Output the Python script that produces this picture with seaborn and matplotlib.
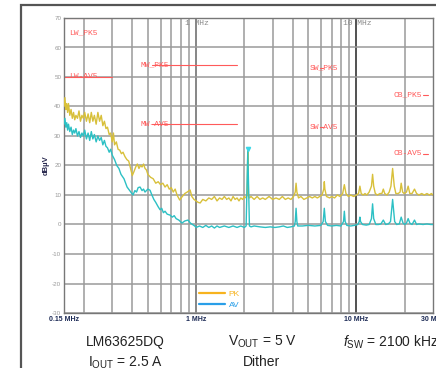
import matplotlib
matplotlib.use("Agg")
import matplotlib.pyplot as plt
from matplotlib.lines import Line2D
from matplotlib.patches import Rectangle
import seaborn as sns

# PK trace (MHz, dBuV)
pk_trace = [
    (0.150, 40), (0.152, 43), (0.154, 39), (0.156, 41), (0.158, 38), (0.160, 41),
    (0.163, 37), (0.166, 39), (0.169, 36), (0.172, 38), (0.175, 35.5), (0.178, 37),
    (0.182, 36), (0.186, 38.5), (0.190, 35), (0.194, 37), (0.198, 36), (0.202, 38),
    (0.207, 35), (0.212, 37.5), (0.217, 34.5), (0.222, 38), (0.227, 35), (0.232, 37),
    (0.238, 34), (0.244, 38), (0.250, 35), (0.256, 37), (0.262, 33.5), (0.268, 35),
    (0.274, 32.5), (0.280, 33), (0.287, 30.5), (0.293, 31), (0.300, 28), (0.305, 31),
    (0.310, 27), (0.318, 28), (0.326, 25.5), (0.334, 25.2), (0.342, 24), (0.350, 24.5),
    (0.360, 23), (0.370, 22), (0.380, 21.5), (0.390, 19), (0.400, 16.6), (0.410, 18),
    (0.420, 19.5), (0.430, 20.5), (0.440, 19), (0.450, 20), (0.460, 19.5), (0.470, 20.5),
    (0.480, 19), (0.490, 18.5), (0.500, 17), (0.520, 16), (0.540, 15.5), (0.560, 14),
    (0.580, 14.5), (0.600, 13.5), (0.620, 14), (0.640, 12.7), (0.660, 13.5), (0.680, 12),
    (0.700, 12.5), (0.720, 11), (0.740, 12), (0.760, 10), (0.790, 8.3), (0.820, 9.5),
    (0.850, 10.5), (0.880, 11), (0.917, 11.7), (0.940, 9.5), (0.970, 8.5), (1.00, 8),
    (1.03, 7.5), (1.06, 7.3), (1.10, 8.5), (1.15, 8), (1.20, 9), (1.25, 8.5),
    (1.30, 9.5), (1.35, 8), (1.40, 9), (1.45, 8.5), (1.50, 9.5), (1.55, 8.5),
    (1.60, 9), (1.65, 8), (1.70, 9.5), (1.75, 8.5), (1.80, 9), (1.85, 8),
    (1.90, 9), (1.95, 8.5), (2.00, 9.5), (2.05, 9), (2.08, 10), (2.10, 25),
    (2.12, 10), (2.15, 9), (2.20, 9.5), (2.30, 8.5), (2.40, 9.5), (2.50, 8.5),
    (2.60, 9), (2.70, 8.5), (2.85, 9.5), (3.00, 8.5), (3.15, 9), (3.30, 8.5),
    (3.45, 9.5), (3.60, 8.5), (3.75, 9), (3.90, 8.5), (4.05, 9.5), (4.15, 11),
    (4.20, 14), (4.25, 11), (4.35, 9), (4.50, 9.5), (4.70, 8.5), (4.90, 9),
    (5.10, 9.5), (5.30, 9), (5.50, 9.5), (5.70, 9), (5.90, 9.5), (6.10, 10),
    (6.25, 12), (6.30, 14.5), (6.35, 12), (6.50, 9.5), (6.80, 9), (7.00, 9.5),
    (7.30, 9), (7.60, 10), (7.90, 9.5), (8.20, 10.5), (8.40, 13.5), (8.60, 10.5),
    (8.90, 9.5), (9.20, 10), (9.60, 9.5), (10.0, 10), (10.3, 10.5), (10.5, 13),
    (10.7, 10.5), (11.0, 10), (11.3, 10.5), (11.6, 10), (12.0, 11), (12.4, 13),
    (12.6, 17), (12.8, 13), (13.1, 10.5), (13.5, 10), (14.0, 10.5), (14.4, 10.5),
    (14.7, 12), (15.0, 10.5), (15.5, 10), (16.0, 11), (16.4, 13), (16.8, 19),
    (17.2, 13), (17.6, 10.5), (18.2, 10.5), (18.7, 11), (19.0, 14), (19.4, 11),
    (19.8, 10.5), (20.5, 11), (21.0, 13), (21.5, 10.5), (22.2, 10.5), (23.0, 12),
    (23.7, 10.5), (24.5, 10), (25.5, 10.5), (26.5, 10), (27.5, 10.5), (28.5, 10),
    (29.3, 10.5), (30.0, 10),
]

# AV trace (MHz, dBuV)
av_trace = [
    (0.150, 34), (0.152, 36), (0.154, 33), (0.156, 34.5), (0.158, 32), (0.160, 34),
    (0.163, 31.5), (0.166, 33), (0.169, 30.5), (0.172, 32), (0.175, 31), (0.178, 32.5),
    (0.182, 30), (0.186, 31.5), (0.190, 29.5), (0.194, 31), (0.198, 30), (0.202, 32),
    (0.207, 29), (0.212, 31), (0.217, 28.5), (0.222, 31.5), (0.227, 29), (0.232, 30.5),
    (0.238, 28), (0.244, 30), (0.250, 28.5), (0.256, 29.5), (0.262, 27), (0.268, 28.5),
    (0.274, 26.5), (0.280, 26), (0.287, 24.5), (0.293, 25.5), (0.300, 23.5), (0.310, 22),
    (0.320, 20), (0.330, 19), (0.340, 17), (0.355, 15.5), (0.371, 12.7), (0.385, 11.5),
    (0.404, 10), (0.415, 11.5), (0.425, 11), (0.435, 12.5), (0.447, 12.7), (0.460, 11.5),
    (0.470, 12), (0.480, 11), (0.490, 11.5), (0.500, 12), (0.516, 11.6), (0.530, 10),
    (0.545, 8.5), (0.560, 7.5), (0.580, 6), (0.596, 5), (0.610, 5.5), (0.625, 4),
    (0.640, 4.5), (0.660, 3.5), (0.687, 3.2), (0.710, 2.5), (0.730, 3), (0.750, 2),
    (0.780, 1.5), (0.816, 0.5), (0.850, 1.2), (0.890, 1.5), (0.920, 0.5), (0.950, 0),
    (0.980, -0.5), (1.00, -1), (1.05, -0.5), (1.10, -1), (1.15, -0.3), (1.20, -1),
    (1.25, -0.5), (1.30, -1.2), (1.35, -0.5), (1.40, -1), (1.50, -0.5), (1.60, -1),
    (1.70, -0.5), (1.80, -1), (1.90, -0.5), (2.00, -1), (2.05, -0.5), (2.10, 25),
    (2.15, -0.5), (2.20, -0.8), (2.30, -0.5), (2.50, -0.8), (2.70, -1), (2.90, -0.8),
    (3.10, -1), (3.30, -0.8), (3.50, -0.5), (3.70, -1), (3.90, -0.8), (4.10, -0.5),
    (4.15, 1), (4.20, 5.5), (4.25, 1), (4.30, -0.5), (4.60, -0.5), (5.00, -0.3),
    (5.50, -0.5), (6.00, -0.3), (6.20, 1), (6.30, 5.5), (6.40, 1), (6.60, -0.3),
    (7.00, -0.5), (7.50, -0.3), (8.00, -0.5), (8.30, 1), (8.40, 4.5), (8.50, 1),
    (8.70, -0.3), (9.20, -0.5), (9.70, -0.3), (10.2, 0), (10.4, 1), (10.5, 2.5),
    (10.6, 1), (10.9, 0), (11.5, -0.2), (12.0, 0), (12.4, 2), (12.6, 7),
    (12.8, 2), (13.2, 0), (13.7, 0), (14.2, 0.2), (14.7, 1.5), (15.2, 0),
    (15.8, 0.2), (16.3, 1), (16.8, 8.5), (17.3, 1), (17.8, 0), (18.5, 0.2),
    (19.0, 2.5), (19.5, 0.5), (20.0, 0), (20.5, 0.5), (21.0, 2), (21.5, 0.5),
    (22.2, 0), (23.0, 1.5), (23.7, 0), (24.5, 0.2), (26.0, 0), (27.5, 0.2),
    (29.0, 0), (30.0, 0),
]
pk_freq = [p[0] for p in pk_trace]
pk_level = [p[1] for p in pk_trace]
av_freq = [p[0] for p in av_trace]
av_level = [p[1] for p in av_trace]

# CISPR 25 class 5 limit lines
lim_start = [0.15, 0.15, 0.53, 0.53, 5.9, 5.9, 26.0, 26.0]
lim_stop = [0.3, 0.3, 1.8, 1.8, 6.2, 6.2, 28.0, 28.0]
lim_level = [70, 50, 54, 34, 53, 33, 44, 24]
lim_label = ["LW_PK5", "LW-AV5", "MW_PK5", "MW-AV5", "SW_PK5", "SW-AV5", "CB_PK5", "CB-AV5"]
lim_text_x = [0.161, 0.161, 0.45, 0.45, 5.13, 5.13, 16.9, 16.9]
lim_text_y = [65, 50, 54, 34, 53, 33, 44, 24]

y_ticks = [-30, -20, -10, 0, 10, 20, 30, 40, 50, 60, 70]
x_ticks = [0.15, 1, 10, 30]
x_tick_labels = ["0.15 MHz", "1 MHz", "10 MHz", "30 MHz"]
minor_grid = [0.2, 0.3, 0.4, 0.5, 0.6, 0.7, 0.8, 0.9, 2, 3, 4, 5, 6, 7, 8, 9, 20]

sns.set_style("white")
plt.rcParams['font.family'] = ['Liberation Sans', 'DejaVu Sans']
plt.rcParams['mathtext.fontset'] = 'custom'
plt.rcParams['mathtext.rm'] = 'Liberation Sans'
plt.rcParams['mathtext.it'] = 'Liberation Sans:italic'

fig = plt.figure(figsize=(4.36, 3.68), dpi=100)
ax = fig.add_axes([64 / 436, 1 - 313 / 368, 369 / 436, 295 / 368])

# outer frame of the screenshot
fig.patches.append(Rectangle((21 / 436, -0.2), 1.2, 1.2 - 5 / 368, transform=fig.transFigure,
                             fill=False, edgecolor="#555555", lw=1.6, zorder=0))

ax.set_xscale("log")
ax.set_xlim(0.15, 30)
ax.set_ylim(-30, 70)

for f in minor_grid:
    ax.axvline(f, color="#9a9a9a", lw=1.1, zorder=1)
ax.axvline(1, color="#666666", lw=1.1, zorder=1)
ax.axvline(10, color="#222222", lw=1.1, zorder=1)
for v in y_ticks:
    ax.axhline(v, color="#9a9a9a", lw=1.1, zorder=1)

# limit lines
for s, e, lv in zip(lim_start, lim_stop, lim_level):
    ax.plot([s, e], [lv, lv], color="#ff5a5a", lw=0.8, zorder=2)
for tx, ty, lab in zip(lim_text_x, lim_text_y, lim_label):
    ax.text(tx, ty, lab, color="#ff5a5a", fontsize=5.8, family="Liberation Mono",
            va="center", ha="left", zorder=3)

sns.lineplot(x=pk_freq, y=pk_level, ax=ax, color="#d8c03a", lw=1.0, zorder=4, sort=False)
sns.lineplot(x=av_freq, y=av_level, ax=ax, color="#2cc0c4", lw=1.0, zorder=5, sort=False)
ax.plot([2.1], [25.5], marker="v", color="#3ad8e8", ms=3, zorder=6)

ax.text(0.854, 68.3, "1 MHz", fontsize=5.8, family="Liberation Mono", color="#888888", va="center")
ax.text(8.28, 68.3, "10 MHz", fontsize=5.8, family="Liberation Mono", color="#888888", va="center")

ax.set_yticks(y_ticks)
ax.set_yticklabels([str(v) for v in y_ticks], fontsize=4.5, color="#999999")
ax.set_xticks(x_ticks)
ax.set_xticklabels(x_tick_labels, fontsize=5, color="#1c2a55", fontweight="bold")
ax.xaxis.set_minor_locator(matplotlib.ticker.NullLocator())
ax.tick_params(axis="both", length=0, pad=2)
ax.set_ylabel("dB\u00b5V", fontsize=5.5, fontweight="bold", color="#2a2a50", labelpad=2)
ax.set_xlabel("")
for sp in ax.spines.values():
    sp.set_color("#777777")
    sp.set_linewidth(1.0)

handles = [Line2D([], [], color="#f7b31e", lw=1.6), Line2D([], [], color="#2a9fe8", lw=1.6)]
ax.legend(handles, ["PK", "AV"], loc="lower left", bbox_to_anchor=(0.345, -0.012),
          frameon=False, fontsize=6, handlelength=3.2, handletextpad=0.4,
          labelspacing=0.35, labelcolor=["#f7b31e", "#2a9fe8"])

fig.text(125 / 436, 1 - 342 / 368, "LM63625DQ", fontsize=10, color="#222222", ha="center", va="center")
fig.text(262 / 436, 1 - 342 / 368, r"V$_{\mathrm{OUT}}$ = 5 V", fontsize=10, color="#222222", ha="center", va="center")
fig.text(343 / 436, 1 - 342 / 368, r"$\mathit{f}_{\mathrm{SW}}$ = 2100 kHz", fontsize=10, color="#222222", ha="left", va="center")
fig.text(88 / 436, 1 - 363 / 368, r"I$_{\mathrm{OUT}}$ = 2.5 A", fontsize=10, color="#222222", ha="left", va="center")
fig.text(262 / 436, 1 - 362 / 368, "Dither", fontsize=10, color="#222222", ha="center", va="center")

fig.savefig("out.png", dpi=100)
